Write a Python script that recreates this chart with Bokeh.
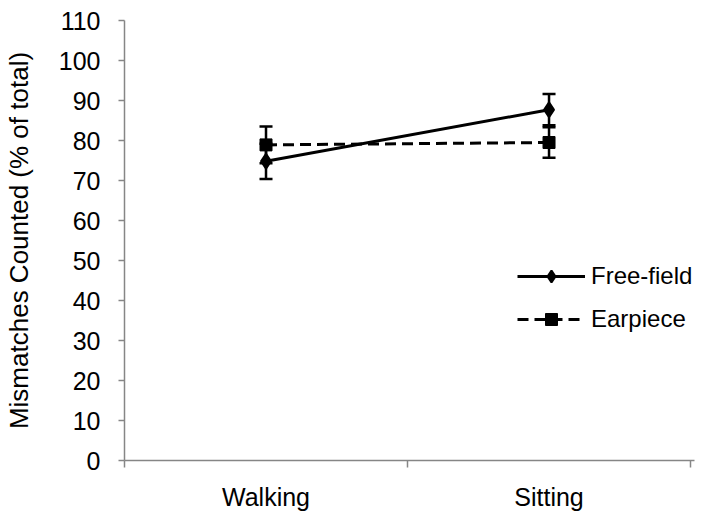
from bokeh.plotting import figure
from bokeh.models import (ColumnDataSource, Whisker, TeeHead, FixedTicker, Range1d,
                          Legend, LegendItem)
from bokeh.embed import file_html
from bokeh.resources import INLINE

# ---- data ----
conditions = ["Walking", "Sitting"]
cond_pos = [0.5, 1.5]
free_field = [74.8, 87.7]
free_field_err = [4.4, 3.9]
earpiece = [78.9, 79.5]
earpiece_err = [4.6, 3.8]
y_ticks = list(range(0, 111, 10))

FONT = "Liberation Sans"
AXIS_COLOR = "#868686"

p = figure(width=702, height=513, output_backend="svg", toolbar_location=None,
           x_range=Range1d(0, 2.014), y_range=Range1d(0, 110),
           min_border_left=122, min_border_right=8, min_border_top=20,
           min_border_bottom=52)
p.outline_line_color = None
p.xgrid.visible = False
p.ygrid.visible = False
p.background_fill_color = "white"

src_ff = ColumnDataSource(dict(x=cond_pos, y=free_field,
                               lo=[v - e for v, e in zip(free_field, free_field_err)],
                               hi=[v + e for v, e in zip(free_field, free_field_err)]))
src_ep = ColumnDataSource(dict(x=cond_pos, y=earpiece,
                               lo=[v - e for v, e in zip(earpiece, earpiece_err)],
                               hi=[v + e for v, e in zip(earpiece, earpiece_err)]))

for src in (src_ep, src_ff):
    w = Whisker(source=src, base="x", lower="lo", upper="hi", dimension="height",
                line_color="black", line_width=2.5,
                upper_head=TeeHead(size=13, line_color="black", line_width=2.5),
                lower_head=TeeHead(size=13, line_color="black", line_width=2.5))
    p.add_layout(w)

l_ep = p.line("x", "y", source=src_ep, line_color="black", line_width=3,
              line_dash="11 6")
m_ep = p.scatter("x", "y", source=src_ep, marker="square", size=12,
                 fill_color="black", line_color="black")
l_ff = p.line("x", "y", source=src_ff, line_color="black", line_width=3)
m_ff = p.scatter("x", "y", source=src_ff, marker="diamond", size=15,
                 fill_color="black", line_color="black", line_width=2)

legend = Legend(items=[LegendItem(label="Free-field", renderers=[l_ff, m_ff]),
                       LegendItem(label="Earpiece", renderers=[l_ep, m_ep])],
                location=(393, 126), orientation="vertical",
                glyph_width=68, glyph_height=30, spacing=13, padding=0, margin=0,
                label_standoff=6, border_line_color=None,
                background_fill_alpha=0,
                label_text_font=FONT, label_text_font_size="24px",
                label_text_color="black")
p.add_layout(legend, "center")

# y axis
ya = p.yaxis[0]
ya.ticker = FixedTicker(ticks=y_ticks)
ya.axis_label = "Mismatches Counted (% of total)"
ya.axis_label_text_font = FONT
ya.axis_label_text_font_size = "26px"
ya.axis_label_text_font_style = "normal"
ya.axis_label_text_color = "black"
ya.axis_label_standoff = 22
ya.major_label_text_font = FONT
ya.major_label_text_font_size = "25px"
ya.major_label_text_color = "black"
ya.major_label_standoff = 18
ya.major_tick_out = 6
ya.major_tick_in = 0
ya.minor_tick_line_color = None
ya.axis_line_color = AXIS_COLOR
ya.axis_line_width = 1.5
ya.major_tick_line_color = AXIS_COLOR
ya.major_tick_line_width = 1.5

# x axis
xa = p.xaxis[0]
xa.ticker = FixedTicker(ticks=cond_pos, minor_ticks=[0, 1, 2])
xa.major_label_overrides = {cond_pos[i]: conditions[i] for i in range(len(conditions))}
xa.major_tick_line_color = None
xa.major_tick_out = 0
xa.major_tick_in = 0
xa.minor_tick_out = 7
xa.minor_tick_in = 0
xa.minor_tick_line_color = AXIS_COLOR
xa.minor_tick_line_width = 1.5
xa.axis_line_color = AXIS_COLOR
xa.axis_line_width = 1.5
xa.major_label_text_font = FONT
xa.major_label_text_font_size = "25px"
xa.major_label_text_color = "black"
xa.major_label_standoff = 15

open("out.html", "w").write(file_html(p, INLINE))
